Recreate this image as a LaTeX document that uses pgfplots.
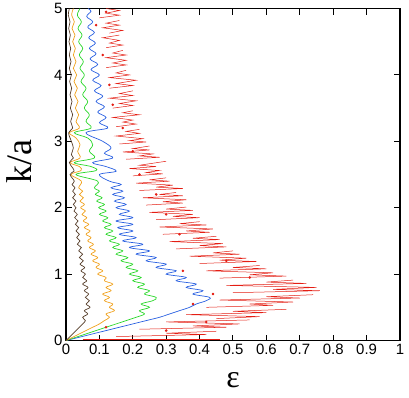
\documentclass[border=0pt]{standalone}
\usepackage{pgfplots}
\pgfplotsset{compat=1.18}
\usepackage{fontspec}
\setmainfont{Liberation Sans}
\newfontfamily\labelfont{Liberation Serif}
\definecolor{cred}{RGB}{228,30,20}
\definecolor{cblue}{RGB}{40,95,225}
\definecolor{cgreen}{RGB}{40,215,40}
\definecolor{corange}{RGB}{240,160,25}
\definecolor{cbrown}{RGB}{85,60,40}
\begin{document}
\begin{tikzpicture}
\begin{axis}[
    width=334bp, height=332bp,
    scale only axis,
    xmin=0, xmax=1, ymin=0, ymax=5,
    xtick={0,0.1,...,1}, ytick={0,1,...,5},
    xticklabels={0,0.1,0.2,0.3,0.4,0.5,0.6,0.7,0.8,0.9,1},
    tick align=inside,
    major tick length=6bp,
    axis line style={line width=1.2pt},
    tick style={line width=1pt, black},
    ticklabel style={font=\fontsize{15}{17}\selectfont},
    /pgf/number format/assume math mode=true,
    xlabel={\labelfont ε}, ylabel={\labelfont k/a},
    every axis x label/.style={at={(axis description cs:0.5,-0.12)}, anchor=center,
        font=\fontsize{32}{34}\selectfont},
    every axis y label/.style={at={(axis description cs:-0.14,0.54)}, anchor=center,
        rotate=90, font=\fontsize{36}{38}\selectfont},
    every axis plot/.append style={line width=0.7pt},
    unbounded coords=jump,
]
% red: baseline and broken spiky band
\addplot[cred, line width=1pt] coordinates {(0.05,0.01) (0.46,0.01)};
\addplot[cred, line width=0.5pt] coordinates {
(0.15,0.06)(0.42,0.09)(0.3,0.11)(0.45,0.14)(0.3,nan)(0.22,0.17)(0.48,0.2)(0.38,0.22)(0.52,0.25)
(0.3,0.28)(0.55,0.31)(0.3,nan)(0.45,0.33)(0.58,0.36)(0.36,0.39)(0.6,0.42)(0.5,0.44)(0.66,0.47)(0.3,nan)
(0.42,0.5)(0.62,0.53)(0.55,0.55)(0.68,0.58)(0.46,0.61)(0.7,0.64)(0.6,0.66)(0.74,0.69)(0.3,nan)
(0.5,0.72)(0.76,0.75)(0.62,0.77)(0.75,0.8)(0.48,0.83)(0.72,0.86)(0.6,0.88)(0.68,0.91)(0.3,nan)
(0.46,0.94)(0.66,0.97)(0.55,0.99)(0.62,1.02)(0.42,1.05)(0.6,1.08)(0.5,1.1)(0.58,1.13)(0.3,nan)
(0.4,1.16)(0.57,1.19)(0.46,1.21)(0.54,1.24)(0.37,1.27)(0.52,1.3)(0.44,1.32)(0.5,1.35)(0.3,nan)
(0.33,1.38)(0.48,1.41)(0.4,1.43)(0.47,1.46)(0.31,1.49)(0.46,1.52)(0.38,1.54)(0.45,1.57)(0.3,nan)
(0.29,1.6)(0.43,1.63)(0.36,1.65)(0.44,1.68)(0.28,1.71)(0.42,1.74)(0.34,1.76)(0.4,1.79)(0.3,nan)
(0.27,1.82)(0.4,1.85)(0.32,1.87)(0.38,1.9)(0.25,1.93)(0.38,1.96)(0.3,1.98)(0.36,2.01)(0.3,nan)
(0.24,2.04)(0.35,2.07)(0.29,2.09)(0.36,2.12)(0.23,2.15)(0.35,2.18)(0.28,2.2)(0.33,2.23)(0.3,nan)
(0.22,2.26)(0.35,2.29)(0.27,2.31)(0.32,2.34)(0.21,2.37)(0.31,2.4)(0.25,2.42)(0.3,2.45)(0.3,nan)
(0.2,2.48)(0.29,2.51)(0.24,2.53)(0.28,2.56)(0.19,2.59)(0.27,2.62)(0.22,2.64)(0.3,2.7)(0.3,nan)
(0.18,2.73)(0.28,2.76)(0.22,2.78)(0.26,2.81)(0.17,2.84)(0.25,2.87)(0.2,2.89)(0.25,2.93)(0.3,nan)
(0.16,2.96)(0.24,2.99)(0.19,3.01)(0.23,3.04)(0.15,3.08)(0.22,3.12)(0.18,3.15)(0.22,3.18)(0.3,nan)
(0.15,3.22)(0.21,3.26)(0.17,3.29)(0.2,3.32)(0.14,3.36)(0.22,3.4)(0.17,3.43)(0.2,3.46)(0.3,nan)
(0.14,3.5)(0.2,3.54)(0.16,3.57)(0.21,3.61)(0.13,3.65)(0.2,3.69)(0.16,3.72)(0.2,3.76)(0.3,nan)
(0.13,3.8)(0.2,3.84)(0.15,3.87)(0.21,3.92)(0.13,3.96)(0.19,4.0)(0.15,4.03)(0.18,4.07)(0.3,nan)
(0.12,4.11)(0.18,4.15)(0.14,4.18)(0.18,4.22)(0.12,4.26)(0.18,4.3)(0.14,4.33)(0.17,4.37)(0.3,nan)
(0.12,4.41)(0.17,4.45)(0.13,4.48)(0.16,4.52)(0.11,4.56)(0.16,4.6)(0.3,nan)(0.13,4.63)(0.17,4.67)
(0.11,4.71)(0.16,4.75)(0.12,4.78)(0.16,4.82)(0.3,nan)(0.1,4.86)(0.16,4.9)(0.12,4.93)(0.16,4.97)
(0.12,5.0)};
% scattered red fragments
\addplot[cred, only marks, mark=*, mark size=0.9pt] coordinates {
(0.12,0.2)(0.3,0.15)(0.42,0.28)(0.38,0.55)(0.44,0.7)(0.55,0.95)(0.35,1.05)(0.48,1.2)
(0.34,1.6)(0.3,1.9)(0.27,2.2)(0.22,2.5)(0.2,2.85)(0.17,3.2)(0.14,3.55)(0.13,3.85)
(0.11,4.3)(0.09,4.75)(0.12,4.95)};
% blue
\addplot[cblue, smooth, tension=0.6] coordinates {
(0,0)(0.04,0.05)(0.08,0.1)(0.12,0.15)(0.16,0.2)(0.2,0.25)(0.24,0.3)(0.28,0.35)(0.31,0.4)
(0.34,0.45)(0.37,0.5)(0.39,0.55)(0.42,0.6)(0.43,0.65)(0.38,0.7)(0.41,0.75)(0.36,0.8)
(0.39,0.85)(0.33,0.9)(0.36,0.95)(0.3,1.0)(0.33,1.05)(0.27,1.1)(0.3,1.15)(0.24,1.2)
(0.27,1.25)(0.21,1.3)(0.25,1.35)(0.19,1.4)(0.23,1.45)(0.17,1.5)(0.21,1.55)(0.16,1.6)
(0.2,1.65)(0.155,1.7)(0.2,1.75)(0.15,1.8)(0.2,1.85)(0.16,1.9)(0.19,1.95)(0.15,2.0)
(0.18,2.05)(0.145,2.1)(0.175,2.15)(0.14,2.2)(0.17,2.25)(0.135,2.3)(0.165,2.35)(0.13,2.4)
(0.1,2.5)(0.15,2.55)(0.12,2.62)(0.08,2.68)(0.14,2.75)(0.115,2.82)(0.135,2.9)(0.11,3.0)
(0.06,3.13)(0.125,3.2)(0.1,3.28)(0.12,3.36)(0.095,3.44)(0.115,3.52)(0.09,3.6)(0.11,3.68)
(0.085,3.76)(0.105,3.84)(0.08,3.92)(0.1,4.0)(0.075,4.08)(0.095,4.16)(0.072,4.24)(0.09,4.32)
(0.07,4.4)(0.088,4.48)(0.068,4.56)(0.085,4.64)(0.065,4.72)(0.08,4.8)(0.062,4.88)(0.075,4.96)
(0.066,5.0)};
% green
\addplot[cgreen, smooth, tension=0.6] coordinates {
(0,0)(0.03,0.05)(0.06,0.1)(0.09,0.15)(0.12,0.2)(0.15,0.25)(0.18,0.3)(0.21,0.35)(0.235,0.4)
(0.22,0.45)(0.25,0.5)(0.225,0.55)(0.26,0.6)(0.27,0.65)(0.235,0.7)(0.25,0.75)(0.215,0.8)
(0.235,0.85)(0.2,0.9)(0.225,0.95)(0.19,1.0)(0.215,1.05)(0.18,1.1)(0.2,1.15)(0.165,1.2)
(0.185,1.25)(0.15,1.3)(0.17,1.35)(0.14,1.4)(0.16,1.45)(0.13,1.5)(0.15,1.55)(0.12,1.6)
(0.14,1.65)(0.115,1.7)(0.135,1.75)(0.11,1.8)(0.125,1.85)(0.1,1.9)(0.12,1.95)(0.098,2.0)
(0.115,2.05)(0.092,2.1)(0.108,2.15)(0.088,2.2)(0.1,2.25)(0.085,2.3)(0.095,2.4)(0.03,2.5)
(0.09,2.56)(0.075,2.62)(0.025,2.68)(0.085,2.75)(0.07,2.85)(0.08,2.95)(0.065,3.05)(0.025,3.13)
(0.075,3.2)(0.06,3.3)(0.07,3.4)(0.055,3.5)(0.065,3.6)(0.05,3.7)(0.06,3.8)(0.045,3.9)
(0.055,4.0)(0.042,4.1)(0.052,4.2)(0.04,4.3)(0.05,4.4)(0.038,4.5)(0.048,4.6)(0.036,4.7)
(0.046,4.8)(0.034,4.9)(0.042,5.0)};
% orange
\addplot[corange, smooth, tension=0.6] coordinates {
(0,0)(0.02,0.05)(0.04,0.1)(0.06,0.15)(0.08,0.2)(0.10,0.25)(0.115,0.3)(0.13,0.35)(0.12,0.4)
(0.145,0.45)(0.13,0.5)(0.14,0.55)(0.115,0.6)(0.13,0.65)(0.11,0.7)(0.135,0.75)(0.12,0.8)
(0.14,0.85)(0.115,0.9)(0.12,0.95)(0.095,1.0)(0.11,1.05)(0.09,1.1)(0.10,1.15)(0.08,1.2)
(0.095,1.25)(0.075,1.3)(0.088,1.35)(0.07,1.4)(0.082,1.45)(0.065,1.5)(0.075,1.55)(0.06,1.6)
(0.072,1.65)(0.055,1.7)(0.068,1.75)(0.052,1.8)(0.062,1.85)(0.048,1.9)(0.058,1.95)(0.044,2.0)
(0.055,2.05)(0.042,2.1)(0.052,2.15)(0.04,2.2)(0.05,2.25)(0.038,2.3)(0.046,2.4)(0.015,2.5)
(0.045,2.56)(0.04,2.62)(0.012,2.68)(0.042,2.75)(0.035,2.85)(0.042,2.95)(0.03,3.05)(0.01,3.13)
(0.04,3.2)(0.03,3.3)(0.038,3.4)(0.028,3.5)(0.036,3.6)(0.026,3.7)(0.034,3.8)(0.024,3.9)
(0.032,4.0)(0.022,4.1)(0.03,4.2)(0.022,4.3)(0.028,4.4)(0.02,4.5)(0.027,4.6)(0.018,4.7)
(0.025,4.8)(0.017,4.9)(0.022,5.0)};
% brown
\addplot[cbrown, smooth, tension=0.6] coordinates {
(0,0)(0.01,0.05)(0.02,0.1)(0.03,0.15)(0.04,0.2)(0.05,0.25)(0.058,0.3)(0.05,0.35)(0.065,0.4)
(0.055,0.45)(0.072,0.5)(0.06,0.55)(0.07,0.6)(0.058,0.65)(0.068,0.7)(0.055,0.75)(0.066,0.8)
(0.05,0.85)(0.062,0.9)(0.05,0.95)(0.058,1.0)(0.045,1.05)(0.056,1.1)(0.042,1.15)(0.052,1.2)
(0.04,1.25)(0.05,1.3)(0.038,1.35)(0.046,1.4)(0.034,1.45)(0.042,1.5)(0.032,1.55)(0.04,1.6)
(0.03,1.65)(0.038,1.7)(0.028,1.75)(0.036,1.8)(0.026,1.85)(0.034,1.9)(0.024,1.95)(0.03,2.0)
(0.022,2.05)(0.03,2.1)(0.02,2.15)(0.028,2.2)(0.02,2.25)(0.027,2.3)(0.018,2.35)(0.025,2.4)
(0.012,2.5)(0.024,2.55)(0.02,2.6)(0.01,2.68)(0.022,2.75)(0.016,2.8)(0.022,2.9)(0.016,3.0)
(0.008,3.13)(0.02,3.2)(0.014,3.3)(0.02,3.4)(0.013,3.5)(0.018,3.6)(0.012,3.7)(0.017,3.8)
(0.011,3.9)(0.016,4.0)(0.01,4.1)(0.015,4.2)(0.01,4.3)(0.014,4.4)(0.009,4.5)(0.013,4.6)
(0.008,4.7)(0.012,4.8)(0.007,4.9)(0.01,5.0)};
\coordinate (bbl) at (rel axis cs:-0.1976,-0.1717);
\coordinate (btr) at (rel axis cs:1.027,1.024);
\end{axis}
\useasboundingbox (bbl) rectangle (btr);
\end{tikzpicture}
\end{document}
